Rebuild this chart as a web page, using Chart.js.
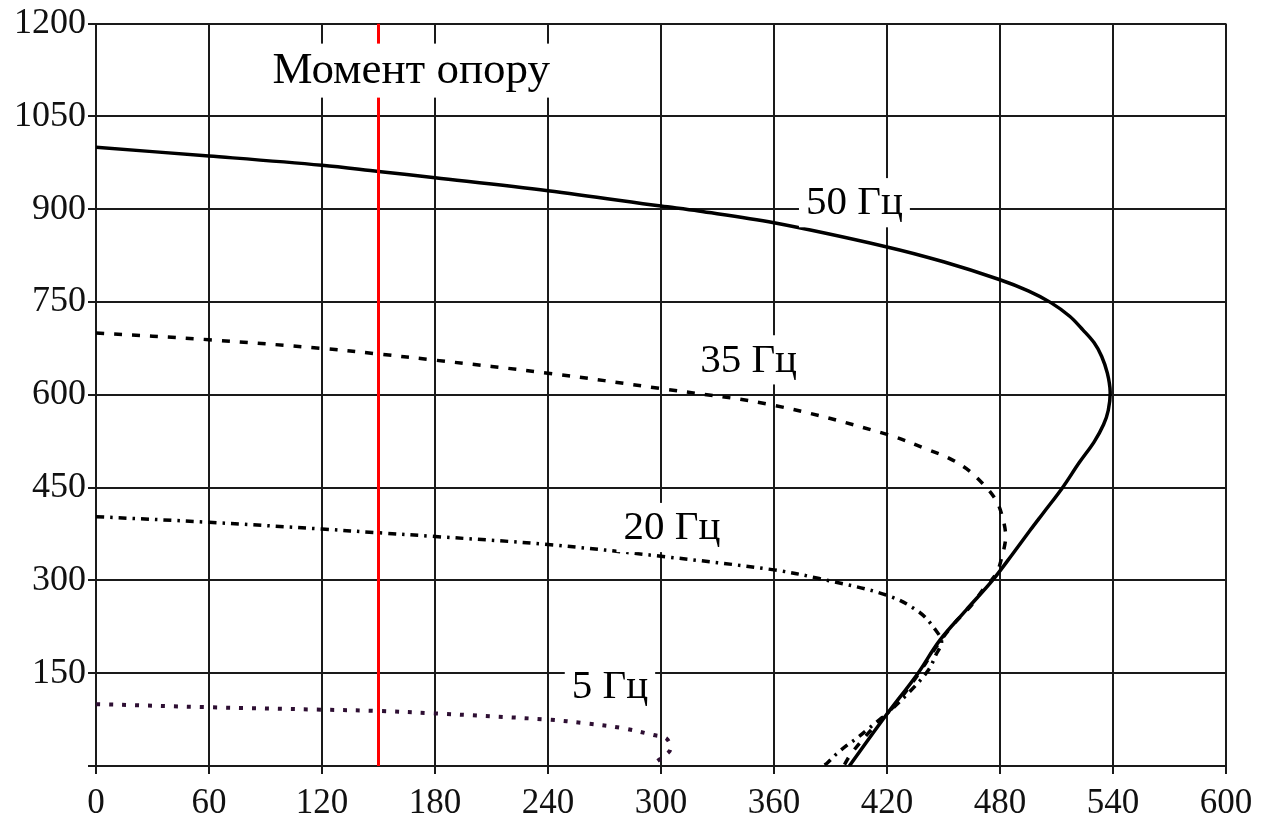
<!DOCTYPE html>
<html>
<head>
<meta charset="utf-8">
<script src="https://cdn.jsdelivr.net/npm/chart.js@4"></script>
<style>
  html, body { margin: 0; padding: 0; background: #fff; }
  #wrap { width: 1279px; height: 817px; }
</style>
</head>
<body>
<div id="wrap"><canvas id="chart" width="1279" height="817"></canvas></div>
<script>
// torque (x) / speed (y)
const torque50 = [0, 60, 120, 150, 180, 240, 300, 320, 360, 420, 450, 480, 495, 507, 517, 524, 530, 534, 537, 538.5, 537.5, 535, 530, 522, 513, 503, 496, 487, 476, 462, 448, 436, 419, 400];
const speed50 = [1000, 986, 971, 961, 951, 930, 905, 897, 878, 839, 815, 786, 768, 749, 727, 705, 684, 662, 635, 605, 575, 552, 524, 490, 449, 409, 381, 344, 300, 252, 203, 148, 80, 0];

const torque35 = [0, 60, 120, 150, 180, 240, 300, 360, 420, 443, 452, 462, 471, 478, 481.5, 483, 481, 478, 471, 464, 455, 446, 437, 425, 413, 401, 397];
const speed35 = [700, 689, 675, 666, 656, 635, 610, 583, 536, 510, 499, 481, 456, 429, 400, 370, 338, 311, 285, 257, 228, 192, 150, 101, 63, 20, 0];

const torque20 = [0, 60, 120, 150, 180, 240, 300, 360, 384, 420, 437, 446, 449, 446, 442, 432, 420, 410, 404, 399, 393, 388, 386];
const speed20 = [403, 394, 383, 377, 371, 358, 339, 317, 303, 276, 249, 219, 200, 180, 155, 120, 85, 60, 45, 34, 19, 4, 0];

const torque5 = [0, 60, 120, 150, 180, 240, 260, 280, 296, 303, 305, 301, 296, 295];
const speed5 = [100, 95, 91, 89, 85, 75, 69, 61, 50, 44, 27, 15, 3, 0];

const loadTorque = 150;
const loadSpan = [0, 1200];

const xTicks = [0, 60, 120, 180, 240, 300, 360, 420, 480, 540, 600];
const yTicks = [0, 150, 300, 450, 600, 750, 900, 1050, 1200];

// text labels, anchored in data units
const notes = [
  { text: 'Момент опору', x: 167.4, y: 1124, size: 45 },
  { text: '50 Гц', x: 402.7, y: 910.5, size: 41 },
  { text: '35 Гц', x: 346.5, y: 656.5, size: 41 },
  { text: '20 Гц', x: 305.8, y: 385.5, size: 41 },
  { text: '5 Гц', x: 272.9, y: 128.2, size: 41 }
];

function pts(xs, ys) {
  return xs.map((x, i) => ({ x: x, y: ys[i] }));
}

const serif = '"Liberation Serif", "Times New Roman", serif';

const notesPlugin = {
  id: 'notes',
  afterDatasetsDraw(chart) {
    const ctx = chart.ctx;
    const xs = chart.scales.x, ys = chart.scales.y;
    ctx.save();
    ctx.textAlign = 'center';
    ctx.textBaseline = 'middle';
    notes.forEach(n => {
      ctx.font = n.size + 'px ' + serif;
      const w = ctx.measureText(n.text).width;
      const cx = xs.getPixelForValue(n.x);
      const cy = ys.getPixelForValue(n.y);
      ctx.fillStyle = '#fff';
      ctx.fillRect(cx - w / 2 - 7, cy - n.size * 0.6, w + 14, n.size * 1.2);
      ctx.fillStyle = '#000';
      ctx.fillText(n.text, cx, cy + 1);
    });
    ctx.restore();
  }
};

const line = (data, color, width, dash) => ({
  data: data,
  showLine: true,
  borderColor: color,
  backgroundColor: color,
  borderWidth: width,
  borderDash: dash,
  pointRadius: 0,
  tension: 0.35,
  fill: false
});

new Chart(document.getElementById('chart').getContext('2d'), {
  type: 'scatter',
  data: {
    datasets: [
      line(pts([loadTorque, loadTorque], loadSpan), '#ff0000', 3, []),
      line(pts(torque5, speed5), '#2e0f33', 4, [4, 9]),
      line(pts(torque20, speed20), '#000', 3.5, [8, 6, 2.5, 6]),
      line(pts(torque35, speed35), '#000', 3.5, [8, 10]),
      line(pts(torque50, speed50), '#000', 3.5, [])
    ]
  },
  options: {
    responsive: false,
    animation: false,
    devicePixelRatio: 1,
    layout: { padding: { top: 22, right: 53, left: 0, bottom: 0 } },
    plugins: { legend: { display: false }, tooltip: { enabled: false } },
    scales: {
      x: {
        type: 'linear',
        min: 0,
        max: 600,
        afterBuildTicks: s => { s.ticks = xTicks.map(v => ({ value: v })); },
        afterFit: s => { s.height = 51; },
        grid: { color: '#1a1a1a', lineWidth: 2, tickLength: 8 },
        border: { color: '#1a1a1a', width: 2 },
        ticks: { color: '#111', padding: 9, maxRotation: 0, font: { family: serif, size: 35 } }
      },
      y: {
        type: 'linear',
        min: 0,
        max: 1200,
        afterBuildTicks: s => { s.ticks = yTicks.map(v => ({ value: v })); },
        afterFit: s => { s.width = 96; },
        grid: { color: '#1a1a1a', lineWidth: 2, tickLength: 8 },
        border: { color: '#1a1a1a', width: 2 },
        ticks: {
          color: '#111',
          padding: 2,
          font: { family: serif, size: 36 },
          callback: v => (v === 0 ? '' : v)
        }
      }
    }
  },
  plugins: [notesPlugin]
});
</script>
</body>
</html>
